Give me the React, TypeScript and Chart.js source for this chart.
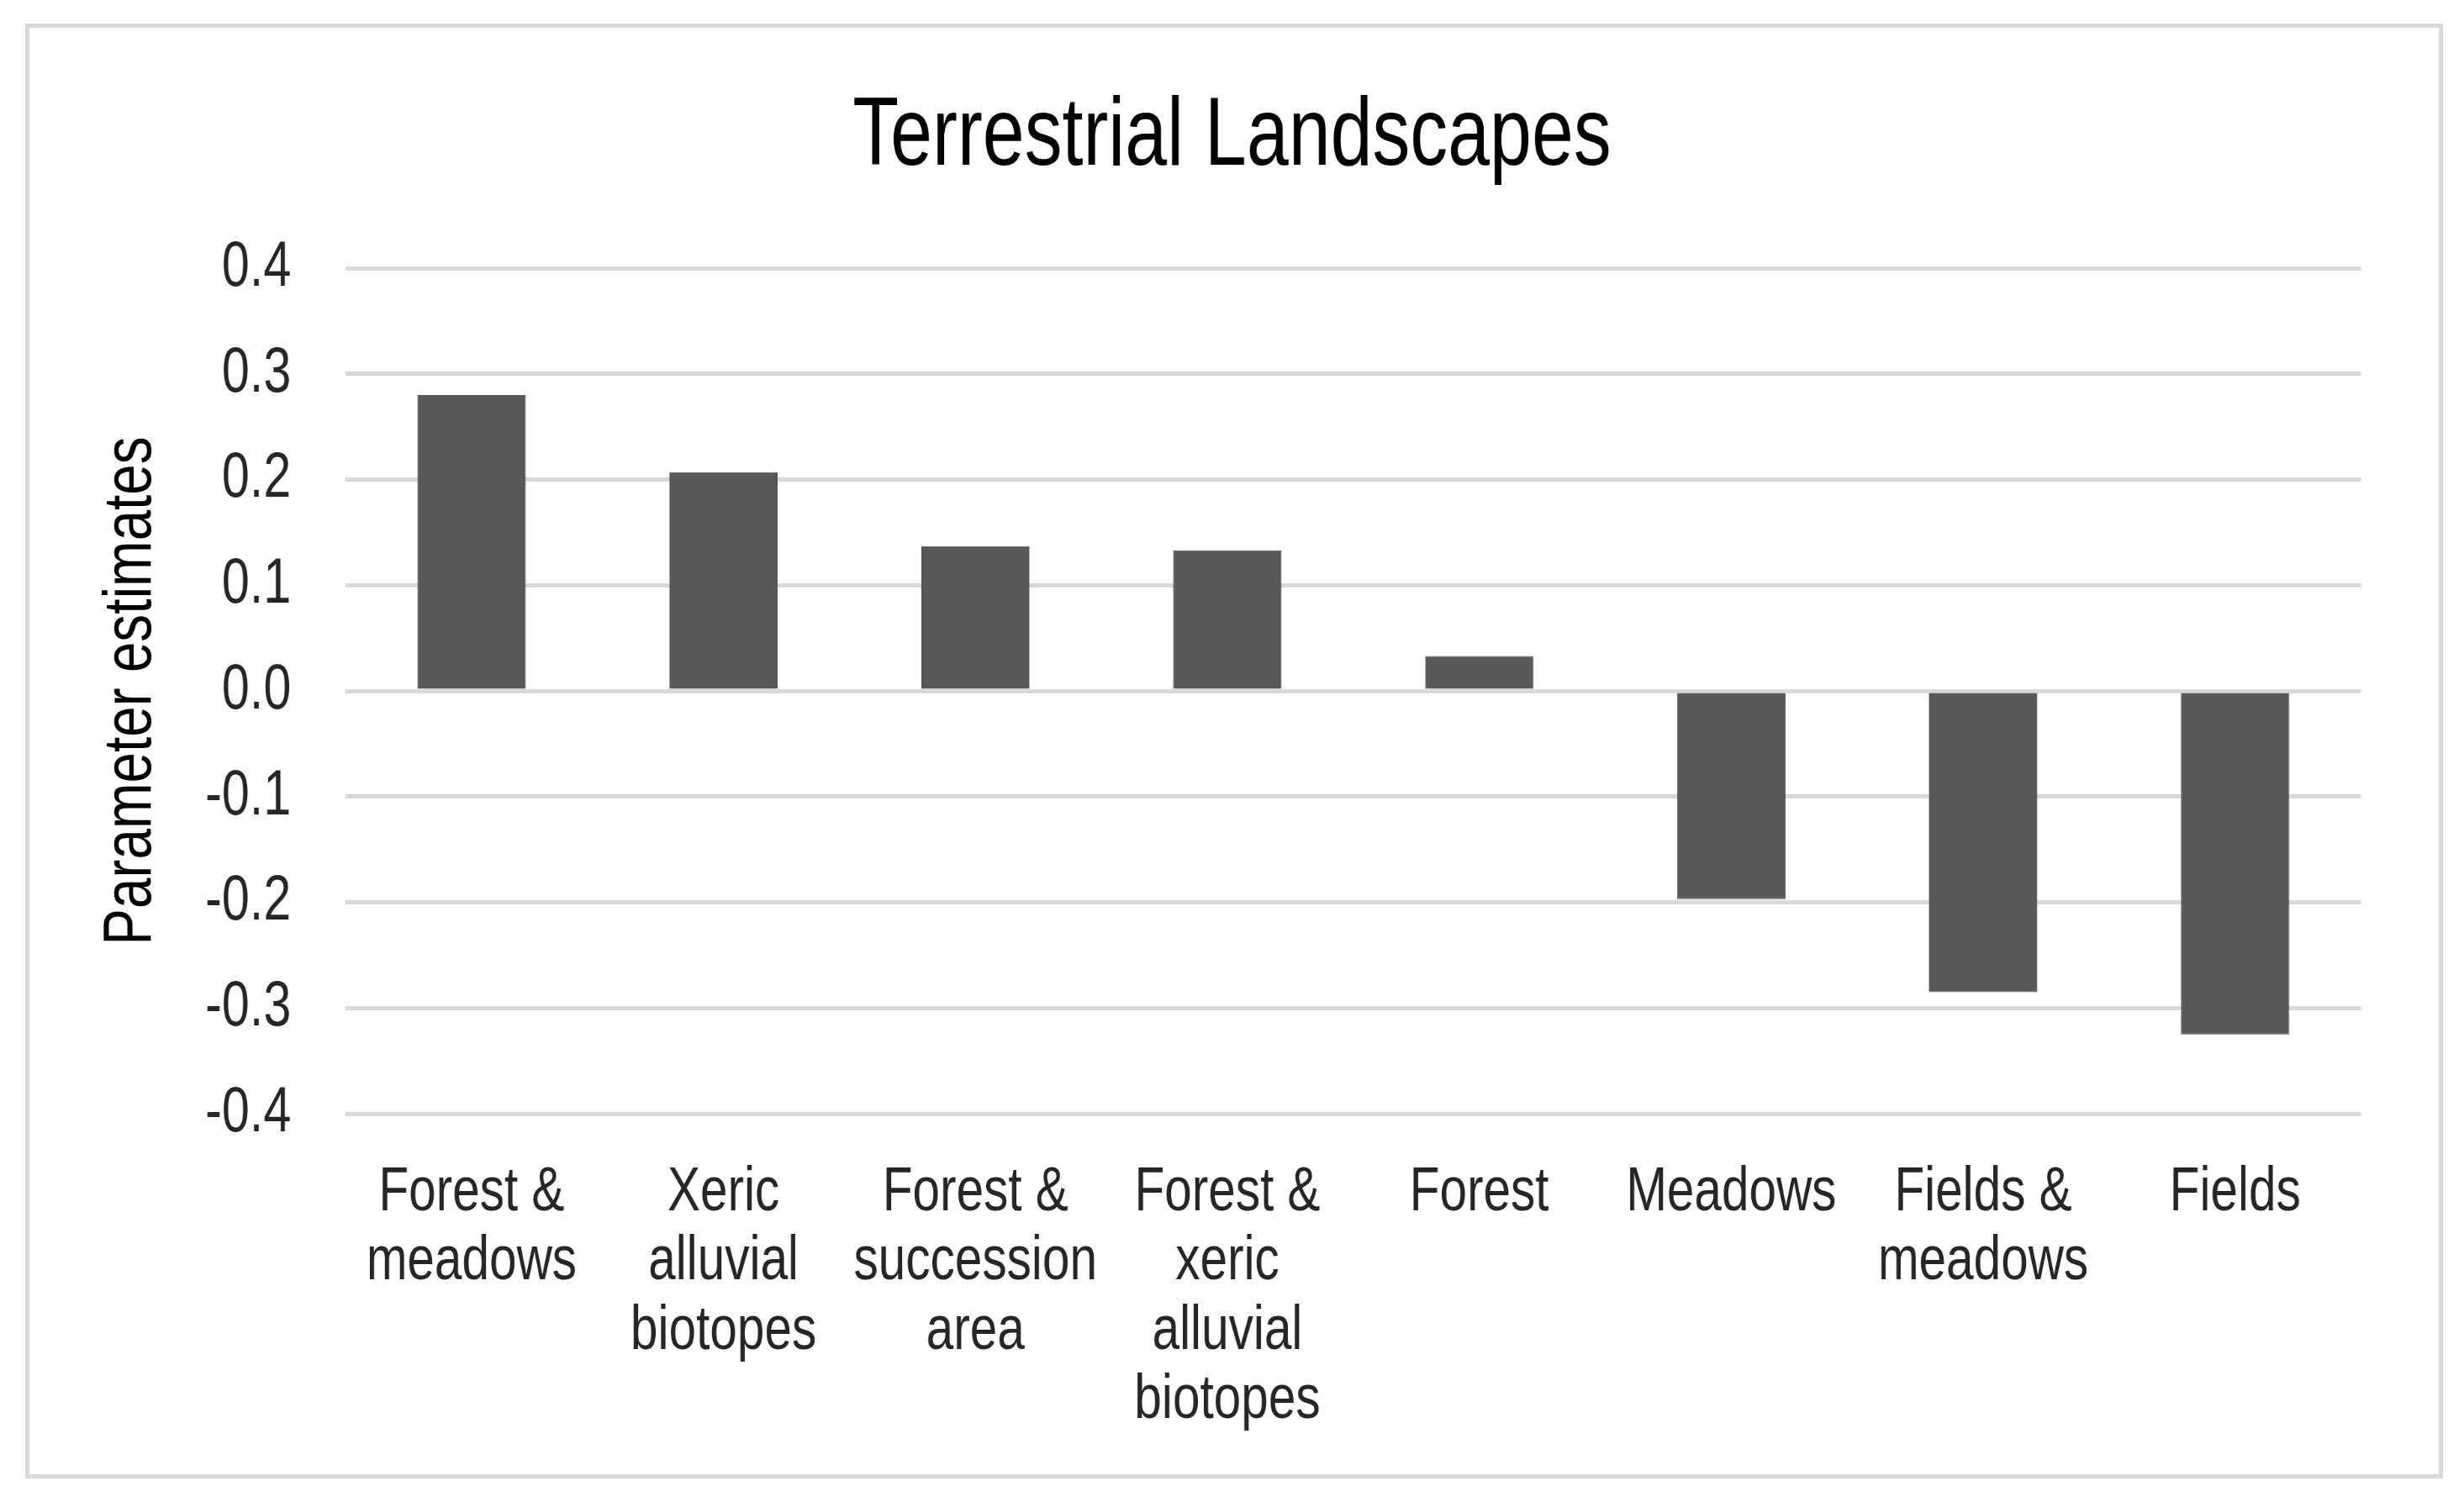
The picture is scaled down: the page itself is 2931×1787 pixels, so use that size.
import React, { useEffect, useRef } from "react";
import { Chart, registerables } from "chart.js";

Chart.register(...registerables);

const chartTitle = "Terrestrial Landscapes";
const yAxisTitle = "Parameter estimates";
const categories: string[][] = [
  ["Forest &", "meadows"],
  ["Xeric", "alluvial", "biotopes"],
  ["Forest &", "succession", "area"],
  ["Forest &", "xeric", "alluvial", "biotopes"],
  ["Forest"],
  ["Meadows"],
  ["Fields &", "meadows"],
  ["Fields"],
];
const estimates = [0.28, 0.207, 0.137, 0.133, 0.033, -0.197, -0.285, -0.325];
const yMin = -0.4;
const yMax = 0.4;
const yStep = 0.1;

// The reference uses a narrow typeface; no narrow font is installed, so the
// canvas is drawn wider and displayed horizontally compressed.
const PAGE_W = 2931;
const PAGE_H = 1787;
const NARROW = 0.78;
const LOGICAL_W = Math.round(PAGE_W / NARROW);

const FONT = '"Liberation Sans", Arial, Helvetica, sans-serif';

// Rotated axis title drawn in a narrow style (the compression must follow the
// text direction, which is vertical here).
const narrowAxisTitle = {
  id: "narrowAxisTitle",
  afterDraw(chart: any) {
    const { ctx, chartArea } = chart;
    const x = 201;
    const y = (chartArea.top + chartArea.bottom) / 2;
    ctx.save();
    ctx.translate(x, y);
    ctx.rotate(-Math.PI / 2);
    ctx.scale(0.81, 1 / NARROW);
    ctx.font = `81px ${FONT}`;
    ctx.fillStyle = "#000000";
    ctx.textAlign = "center";
    ctx.textBaseline = "middle";
    ctx.fillText(yAxisTitle, 0, 0);
    ctx.restore();
  },
};

export default function App() {
  const ref = useRef<HTMLCanvasElement | null>(null);

  useEffect(() => {
    if (!ref.current) return;
    const chart = new Chart(ref.current, {
      type: "bar",
      data: {
        labels: categories,
        datasets: [
          {
            data: estimates,
            yAxisID: "y",
            backgroundColor: "#595959",
            borderColor: "#505050",
            borderWidth: 1,
            barPercentage: 0.43,
            categoryPercentage: 1,
          },
        ],
      },
      options: {
        responsive: false,
        animation: false,
        devicePixelRatio: 1,
        layout: { padding: 0 },
        plugins: {
          legend: { display: false },
          tooltip: { enabled: false },
          title: {
            display: true,
            text: chartTitle,
            color: "#000000",
            font: { family: FONT, size: 115, weight: "normal" },
            padding: { top: 95, bottom: 86 },
          },
        },
        scales: {
          x: {
            grid: { display: false, drawTicks: false },
            border: { display: false },
            ticks: {
              color: "#262626",
              font: { family: FONT, size: 75, lineHeight: 1.1 },
              padding: 53,
              maxRotation: 0,
              minRotation: 0,
              autoSkip: false,
            },
            afterFit: (s: any) => {
              s.height = 462;
            },
          },
          y: {
            min: yMin,
            max: yMax,
            position: "left",
            grid: { color: "#d9d9d9", lineWidth: 5, drawTicks: false },
            border: { display: false },
            ticks: {
              stepSize: yStep,
              color: "#262626",
              font: { family: FONT, size: 76 },
              padding: 83,
              callback: (v: any) => {
                const n = Number(v);
                return Math.abs(n) < 1e-9 ? "0.0" : n.toFixed(1);
              },
            },
            title: { display: false },
            afterFit: (s: any) => {
              s.width = 527;
            },
          },
          yRight: {
            type: "linear",
            position: "right",
            min: 0,
            max: 1,
            grid: { display: false, drawTicks: false },
            border: { display: false },
            ticks: { display: false },
            afterFit: (s: any) => {
              s.width = 157;
            },
          },
        },
      },
      plugins: [narrowAxisTitle],
    });
    return () => chart.destroy();
  }, []);

  return (
    <div style={{ position: "absolute", left: 0, top: 0, width: PAGE_W, height: PAGE_H, background: "#ffffff" }}>
      <canvas
        ref={ref}
        width={LOGICAL_W}
        height={PAGE_H}
        style={{ position: "absolute", left: 0, top: 0, width: PAGE_W, height: PAGE_H }}
      />
      <div
        style={{
          position: "absolute",
          left: 30,
          top: 28,
          width: 2866,
          height: 1721,
          border: "5px solid #d9d9d9",
          boxSizing: "content-box",
          pointerEvents: "none",
        }}
      />
    </div>
  );
}
